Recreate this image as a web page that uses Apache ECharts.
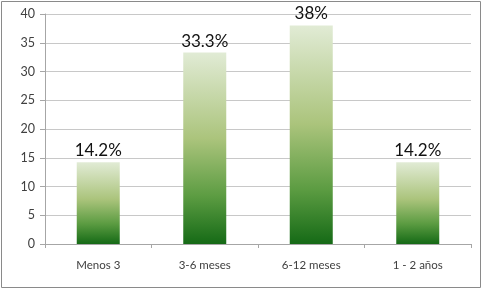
<!DOCTYPE html>
<html>
<head>
<meta charset="utf-8">
<script src="https://cdn.jsdelivr.net/npm/echarts@6/dist/echarts.min.js"></script>
<style>
html,body{margin:0;padding:0;background:#fff;}
#c{width:483px;height:290px;}
</style>
</head>
<body>
<div id="c"></div>
<script>
var categories = ['Menos 3', '3-6 meses', '6-12 meses', '1 - 2 años'];
var values = [14.2, 33.3, 38, 14.2];
var valueLabels = ['14.2%', '33.3%', '38%', '14.2%'];
var yTicks = [0, 5, 10, 15, 20, 25, 30, 35, 40];

var chart = echarts.init(document.getElementById('c'), null, {renderer: 'canvas'});
chart.setOption({
  animation: false,
  backgroundColor: '#fff',
  graphic: [{
    type: 'rect', silent: true,
    shape: {x: 1.5, y: 1.5, width: 479, height: 286},
    style: {fill: 'none', stroke: '#8a8a8a', lineWidth: 1}
  }],
  grid: {left: 45, right: 12, top: 14, bottom: 46, containLabel: false},
  xAxis: {
    type: 'category',
    data: categories,
    axisLine: {lineStyle: {color: '#a6a6a6'}},
    axisTick: {show: true, alignWithLabel: false, length: 4, lineStyle: {color: '#a6a6a6'}},
    axisLabel: {color: '#404040', fontSize: 11.5, fontFamily: 'Lato', margin: 15}
  },
  yAxis: {
    type: 'value',
    min: yTicks[0], max: yTicks[yTicks.length - 1], interval: 5,
    axisLine: {show: true, lineStyle: {color: '#a6a6a6'}},
    axisTick: {show: true, length: 5, lineStyle: {color: '#a6a6a6'}},
    axisLabel: {color: '#404040', fontSize: 12.5, fontFamily: 'Lato', margin: 10},
    splitLine: {lineStyle: {color: '#c8c8c8'}}
  },
  series: [{
    type: 'bar',
    data: values,
    barWidth: 43,
    itemStyle: {
      color: new echarts.graphic.LinearGradient(0, 0, 0, 1, [
        {offset: 0, color: '#e1ebd5'},
        {offset: 0.45, color: '#abc47c'},
        {offset: 0.75, color: '#5c9c42'},
        {offset: 1, color: '#156a16'}
      ], false)
    },
    label: {
      show: true, position: 'top', distance: 3,
      color: '#111', fontSize: 17, fontFamily: 'Lato',
      formatter: function (p) { return valueLabels[p.dataIndex]; }
    }
  }]
});
</script>
</body>
</html>
